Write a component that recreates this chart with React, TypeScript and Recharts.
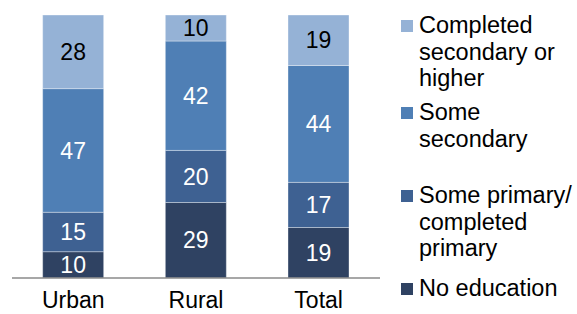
import { BarChart, Bar, XAxis, YAxis, LabelList } from 'recharts'

const categories = ['Urban', 'Rural', 'Total']
const noEducation = [10, 29, 19]
const somePrimary = [15, 20, 17]
const someSecondary = [47, 42, 44]
const completedSecondary = [28, 10, 19]

const seriesNames = [
  'No education',
  'Some primary/ completed primary',
  'Some secondary',
  'Completed secondary or higher',
]
const seriesColors = ['#2F4262', '#3E6192', '#4F7FB5', '#95B2D6']
const labelColors = ['#ffffff', '#ffffff', '#ffffff', '#000000']

const data = categories.map((name, i) => ({
  name,
  s0: noEducation[i],
  s1: somePrimary[i],
  s2: someSecondary[i],
  s3: completedSecondary[i],
}))

const font = '"Liberation Sans", Arial, sans-serif'

// legend rows, top to bottom (reverse of stacking)
const legendTops = [12, 99, 182, 275]

function ChartLegend() {
  const order = [3, 2, 1, 0]
  return (
    <>
      {order.map((s, i) => (
        <div
          key={s}
          style={{
            position: 'absolute',
            left: 401,
            top: legendTops[i],
            display: 'flex',
            alignItems: 'flex-start',
            fontFamily: font,
            fontSize: 23.5,
            lineHeight: '26.5px',
            color: '#000',
          }}
        >
          <div style={{ width: 12, height: 12, background: seriesColors[s], marginTop: 8, flexShrink: 0 }} />
          <div style={{ marginLeft: 6, width: 160 }}>{seriesNames[s]}</div>
        </div>
      ))}
    </>
  )
}

export default function App() {
  return (
    <div style={{ position: 'absolute', left: 0, top: 0, width: 577, height: 314, overflow: 'hidden', background: '#fff' }}>
      <BarChart
        width={577}
        height={314}
        data={data}
        stackOffset="expand"
        barCategoryGap="25%"
        margin={{ top: 15, right: 197, left: 12, bottom: 0 }}
      >
        <XAxis
          dataKey="name"
          height={36}
          tickLine={false}
          tickSize={0}
          tickMargin={14}
          axisLine={{ stroke: '#8a8a8a', strokeWidth: 1.5 }}
          tick={{ fill: '#000', fontSize: 23, fontFamily: font }}
        />
        <YAxis hide domain={[0, 1]} />
        {['s0', 's1', 's2', 's3'].map((key, i) => (
          <Bar
            key={key}
            dataKey={key}
            stackId="a"
            fill={seriesColors[i]}
            stroke="#ffffff"
            strokeOpacity={0.35}
            strokeWidth={1}
            isAnimationActive={false}
          >
            <LabelList
              dataKey={key}
              position="center"
              fill={labelColors[i]}
              style={{ fontSize: 23, fontFamily: font }}
            />
          </Bar>
        ))}
      </BarChart>
      <ChartLegend />
    </div>
  )
}
